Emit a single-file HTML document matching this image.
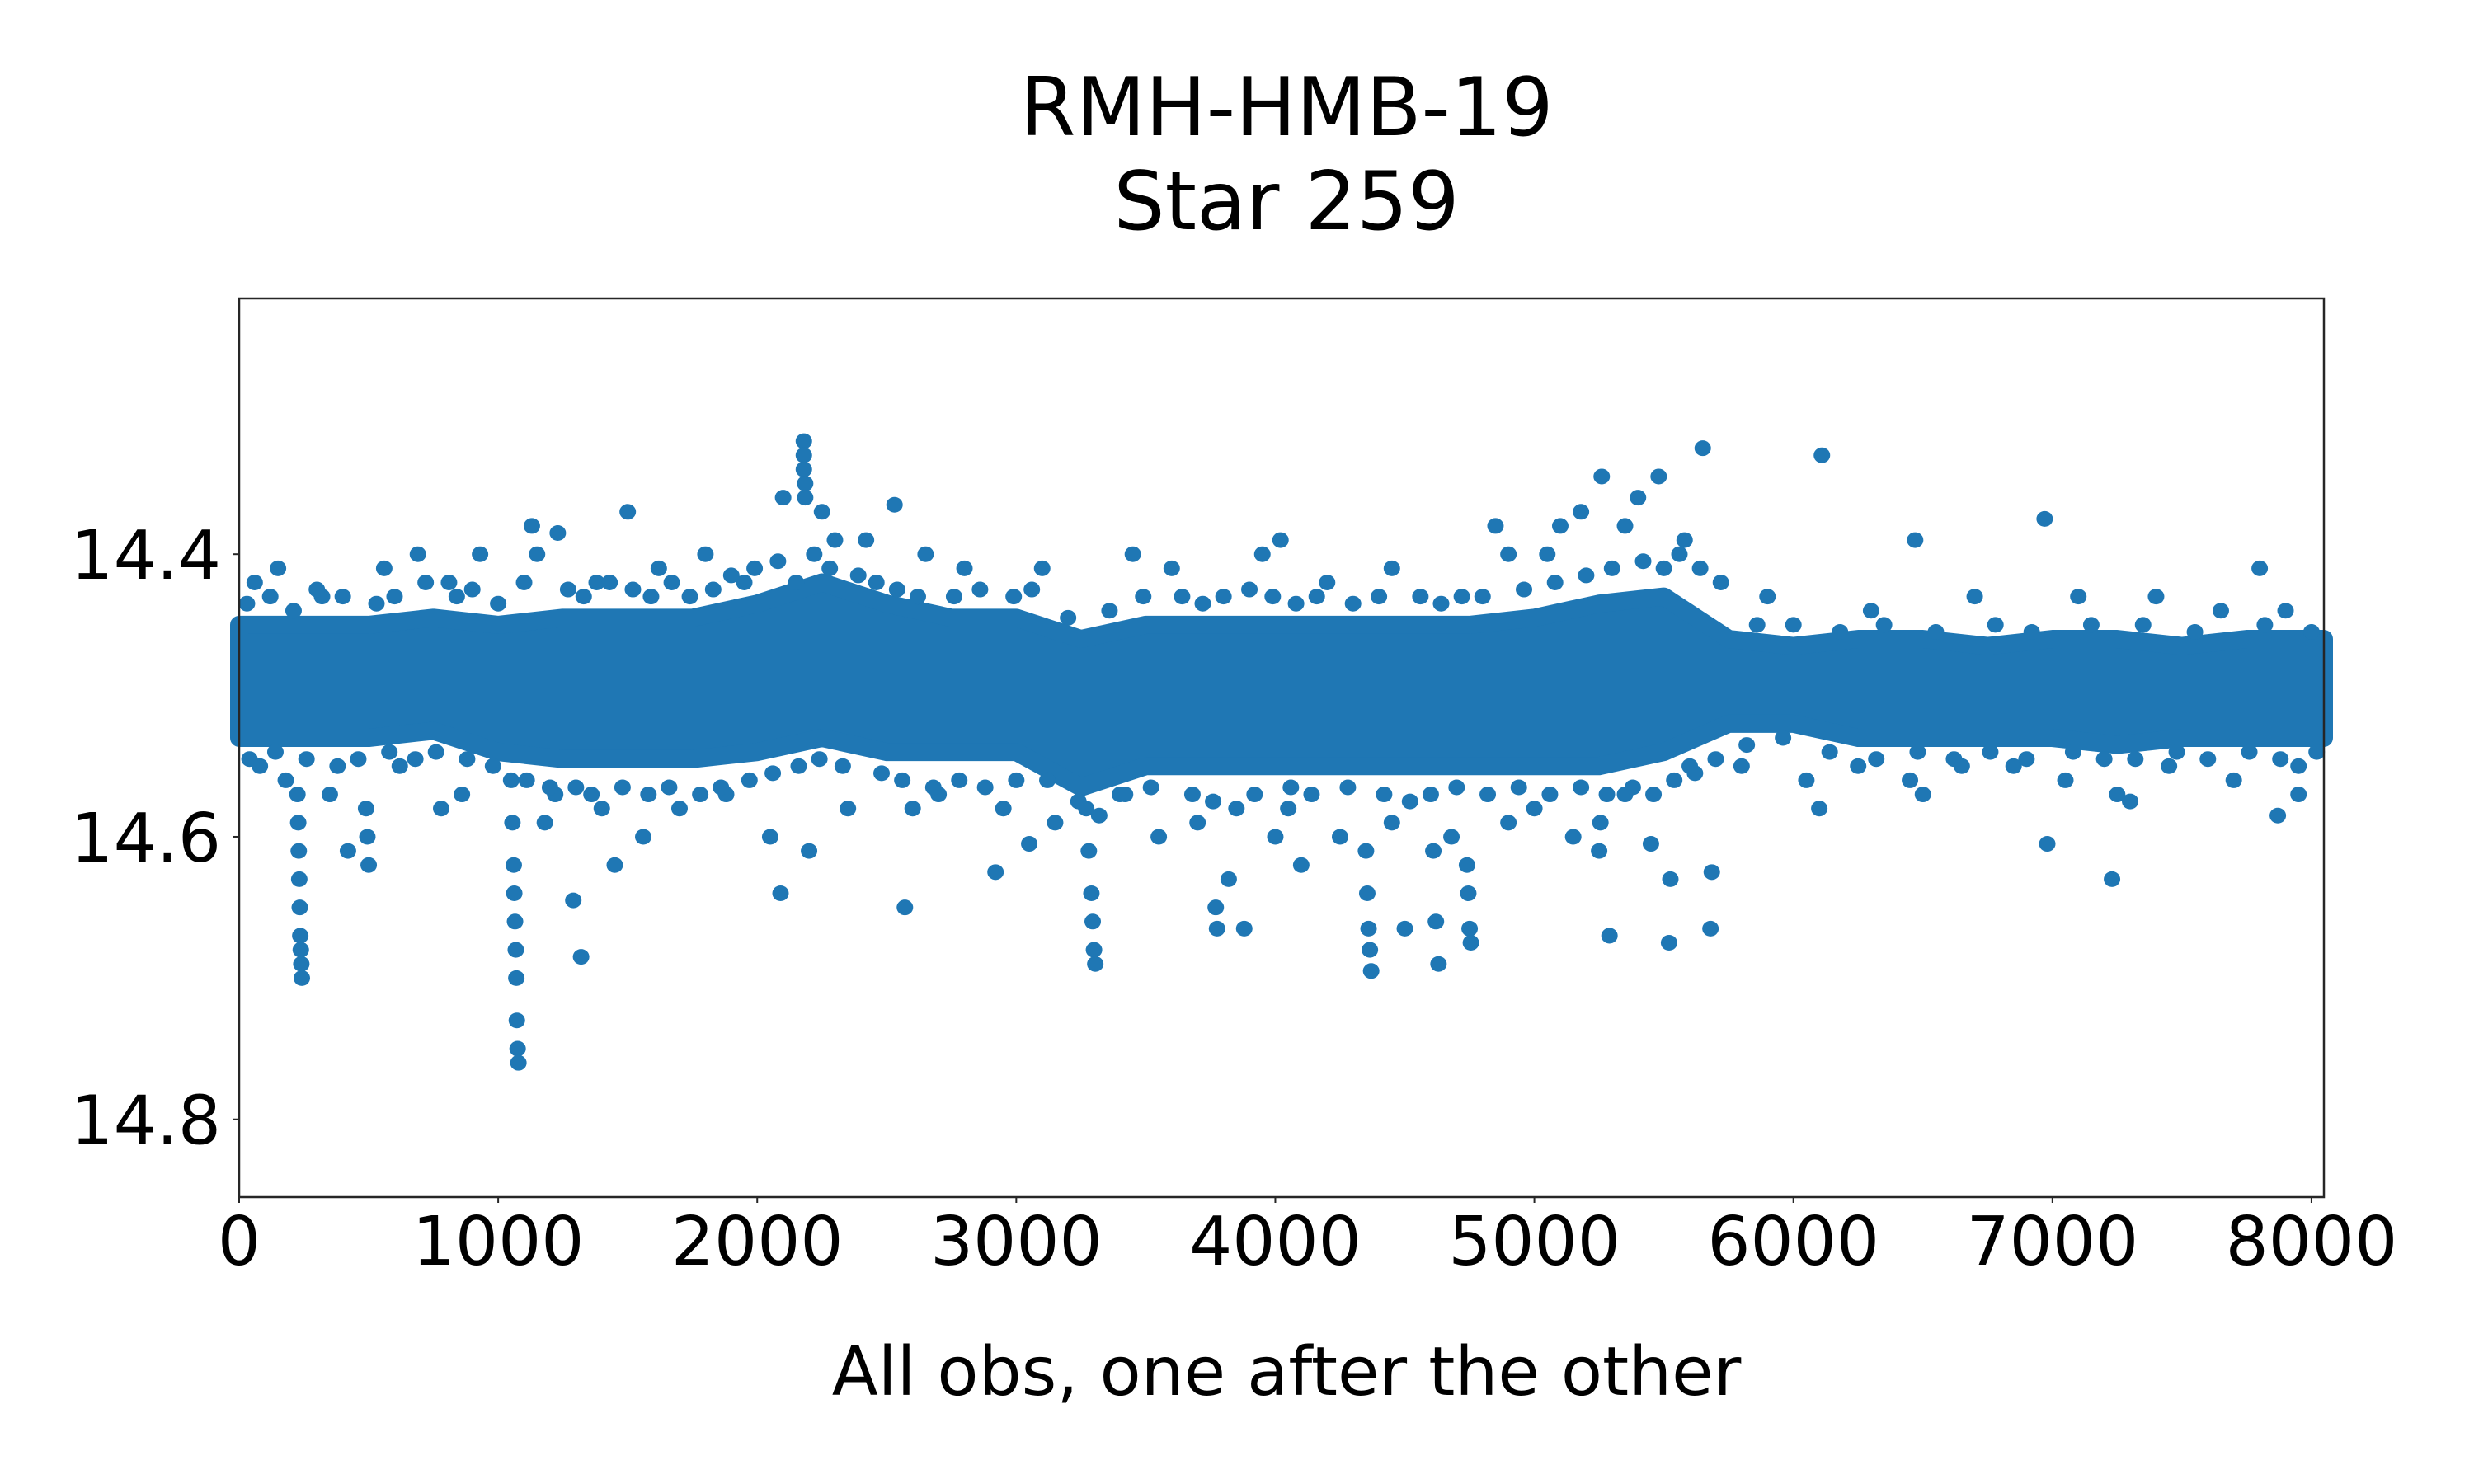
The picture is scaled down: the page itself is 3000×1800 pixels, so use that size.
<!DOCTYPE html>
<html><head><meta charset="utf-8"><style>
html,body{margin:0;padding:0;background:#fff;}
svg{display:block;font-family:"DejaVu Sans","Liberation Sans",sans-serif;}
</style></head><body>
<svg id="chart" width="3000" height="1800" viewBox="0 0 3000 1800" xmlns="http://www.w3.org/2000/svg">
<rect width="3000" height="1800" fill="#fff"/>
<text x="1560" y="164" font-size="98" text-anchor="middle">RMH-HMB-19</text>
<text x="1560" y="278" font-size="98" text-anchor="middle">Star 259</text>
<g id="plot"></g>
<g id="axes"></g>
<text x="1560" y="1692" font-size="82" text-anchor="middle">All obs, one after the other</text>
</svg>
<script>
const binX = [0,250,500,750,1000,1250,1500,1750,2000,2250,2500,2750,3000,3250,3500,3750,4000,4250,4500,4750,5000,5250,5500,5750,6000,6250,6500,6750,7000,7250,7500,7750,8048];
const coreTop = [14.45,14.45,14.45,14.445,14.45,14.445,14.445,14.445,14.435,14.42,14.435,14.445,14.445,14.46,14.45,14.45,14.45,14.45,14.45,14.45,14.445,14.435,14.43,14.46,14.465,14.46,14.46,14.465,14.46,14.46,14.465,14.46,14.46];
const coreBottom = [14.53,14.53,14.53,14.525,14.54,14.545,14.545,14.545,14.54,14.53,14.54,14.54,14.54,14.565,14.55,14.55,14.55,14.55,14.55,14.55,14.55,14.55,14.54,14.52,14.52,14.53,14.53,14.53,14.53,14.535,14.53,14.53,14.53];
const outX = [225,228,230,232,234,236,238,240,242,490,495,500,420,1050,1055,1060,1062,1065,1068,1070,1072,1075,1078,1320,1290,1450,1130,1230,1500,2180,2180,2180,2185,2185,2100,2250,2530,2090,2570,2200,3050,2920,3270,3280,3290,3295,3300,3305,3770,3775,3880,3820,4000,4100,4350,4355,4360,4365,4370,4500,4610,4620,4630,4740,4745,4750,4755,5290,5250,5255,5520,5525,5680,5685,5450,5260,5480,5650,5180,5400,5100,4850,4020,6110,6970,6470,7800,6100,6500,6980,7230,7870,7300,7950,
 60,150,320,560,690,810,930,1150,1380,1620,1800,1950,2300,2420,2650,2800,3100,3450,3600,3950,4200,4450,4900,5050,5350,5580,5900,6300,6700,7100,7400,7650,7900,
 80,180,350,620,780,860,1180,1220,1400,1560,1700,1880,2050,2350,2600,2700,2950,3150,3400,3550,3700,3850,4050,4250,4450,4680,4900,5000,5150,5350,5600,5800,6050,6250,6450,6650,6850,7050,7250,7450,7700,7950,
 30,120,210,300,400,530,600,720,840,900,1000,1100,1270,1330,1430,1520,1590,1670,1740,1830,1900,1990,2080,2150,2220,2280,2390,2460,2540,2620,2760,2860,2990,3060,3200,3360,3490,3640,3720,3800,3900,3990,4080,4160,4300,4400,4560,4640,4720,4800,4960,5080,5200,5300,5420,5500,5560,5640,5720,5860,6000,6180,6350,6550,6780,6920,7150,7350,7550,7820,8000,
 40,140,260,380,460,580,680,760,880,980,1110,1200,1300,1360,1480,1580,1660,1780,1860,1970,2060,2160,2240,2330,2480,2560,2680,2780,2880,3000,3120,3240,3320,3420,3520,3680,3760,3920,4060,4140,4280,4420,4520,4600,4700,4820,4940,5060,5180,5280,5380,5460,5540,5620,5700,5820,5960,6140,6320,6480,6620,6760,6900,7080,7200,7320,7480,7600,7760,7880,8020];
const outY = [14.57,14.59,14.61,14.63,14.65,14.67,14.68,14.69,14.70,14.58,14.60,14.62,14.61,14.56,14.59,14.62,14.64,14.66,14.68,14.70,14.73,14.75,14.76,14.685,14.645,14.62,14.38,14.385,14.37,14.32,14.33,14.34,14.35,14.36,14.36,14.37,14.365,14.64,14.65,14.61,14.605,14.625,14.58,14.61,14.64,14.66,14.68,14.69,14.65,14.665,14.665,14.63,14.60,14.62,14.61,14.64,14.665,14.68,14.695,14.665,14.61,14.66,14.69,14.62,14.64,14.665,14.675,14.67,14.61,14.59,14.675,14.63,14.665,14.625,14.605,14.345,14.345,14.325,14.37,14.36,14.38,14.38,14.39,14.33,14.375,14.39,14.41,14.58,14.57,14.605,14.63,14.585,14.575,14.57,
 14.42,14.41,14.43,14.41,14.40,14.42,14.40,14.40,14.42,14.41,14.40,14.42,14.39,14.39,14.40,14.41,14.41,14.40,14.41,14.40,14.42,14.41,14.40,14.40,14.38,14.39,14.43,14.44,14.43,14.43,14.43,14.44,14.44,
 14.55,14.56,14.57,14.55,14.58,14.57,14.59,14.57,14.58,14.60,14.58,14.57,14.60,14.58,14.58,14.57,14.58,14.59,14.57,14.60,14.59,14.58,14.58,14.60,14.59,14.60,14.59,14.58,14.60,14.57,14.55,14.55,14.56,14.55,14.56,14.55,14.55,14.56,14.57,14.55,14.56,14.55,
 14.435,14.43,14.44,14.425,14.43,14.435,14.43,14.42,14.43,14.425,14.435,14.42,14.425,14.43,14.42,14.425,14.43,14.42,14.43,14.425,14.415,14.41,14.405,14.42,14.40,14.41,14.415,14.42,14.425,14.43,14.43,14.425,14.43,14.425,14.445,14.44,14.43,14.43,14.435,14.43,14.425,14.43,14.435,14.43,14.435,14.43,14.43,14.435,14.43,14.43,14.425,14.42,14.415,14.41,14.405,14.41,14.40,14.41,14.42,14.45,14.45,14.455,14.45,14.455,14.45,14.455,14.45,14.45,14.455,14.45,14.455,
 14.545,14.54,14.545,14.55,14.545,14.54,14.545,14.54,14.545,14.55,14.56,14.565,14.565,14.57,14.565,14.57,14.565,14.57,14.565,14.56,14.555,14.55,14.545,14.55,14.555,14.56,14.565,14.56,14.565,14.56,14.56,14.575,14.585,14.57,14.565,14.57,14.575,14.57,14.565,14.57,14.565,14.57,14.575,14.57,14.565,14.57,14.565,14.57,14.565,14.57,14.565,14.57,14.56,14.555,14.545,14.535,14.53,14.54,14.545,14.54,14.545,14.54,14.545,14.54,14.545,14.545,14.54,14.545,14.54,14.545,14.54];
const xTicks = [0,1000,2000,3000,4000,5000,6000,7000,8000];
const yTicks = [14.4,14.6,14.8];

const L=290,T=362,W=2528,H=1090;
const X0=0,X1=8048,Y0=14.219,Y1=14.855;
const sx=v=>L+(v-X0)/(X1-X0)*W;
const sy=v=>T+(v-Y0)/(Y1-Y0)*H;
const NS='http://www.w3.org/2000/svg';
const plot=document.getElementById('plot'), axes=document.getElementById('axes');
const C='#1f77b4';

let pts=[];
for(let i=0;i<binX.length;i++) pts.push(sx(binX[i])+','+sy(coreTop[i]));
for(let i=binX.length-1;i>=0;i--) pts.push(sx(binX[i])+','+sy(coreBottom[i]));
const poly=document.createElementNS(NS,'polygon');
poly.setAttribute('points',pts.join(' '));
poly.setAttribute('fill',C);poly.setAttribute('stroke',C);
poly.setAttribute('stroke-width','22');poly.setAttribute('stroke-linejoin','round');


plot.appendChild(poly);

for(let i=0;i<outX.length;i++){
  const c=document.createElementNS(NS,'ellipse');
  c.setAttribute('cx',sx(outX[i]));c.setAttribute('cy',sy(outY[i]));
  c.setAttribute('rx',10);c.setAttribute('ry',9.5);c.setAttribute('fill',C);
  
  
  plot.appendChild(c);
}

const frame=document.createElementNS(NS,'rect');
frame.setAttribute('x',L);frame.setAttribute('y',T);frame.setAttribute('width',W);frame.setAttribute('height',H);
frame.setAttribute('fill','none');frame.setAttribute('stroke','#262626');frame.setAttribute('stroke-width','2.5');


axes.appendChild(frame);

xTicks.forEach(v=>{
  const ln=document.createElementNS(NS,'line');
  ln.setAttribute('x1',sx(v));ln.setAttribute('x2',sx(v));ln.setAttribute('y1',T+H);ln.setAttribute('y2',T+H+7);
  ln.setAttribute('stroke','#262626');ln.setAttribute('stroke-width','2');
  
  
  axes.appendChild(ln);
  const t=document.createElementNS(NS,'text');
  t.setAttribute('x',sx(v));t.setAttribute('y',T+H+82);t.setAttribute('font-size','82');t.setAttribute('text-anchor','middle');
  t.textContent=v;
  
  
  axes.appendChild(t);
});
yTicks.forEach(v=>{
  const ln=document.createElementNS(NS,'line');
  ln.setAttribute('x1',L-7);ln.setAttribute('x2',L);ln.setAttribute('y1',sy(v));ln.setAttribute('y2',sy(v));
  ln.setAttribute('stroke','#262626');ln.setAttribute('stroke-width','2');
  
  
  axes.appendChild(ln);
  const t=document.createElementNS(NS,'text');
  t.setAttribute('x',L-22);t.setAttribute('y',sy(v)+30);t.setAttribute('font-size','82');t.setAttribute('text-anchor','end');
  t.textContent=v.toFixed(1);
  
  
  axes.appendChild(t);
});
</script>
</body></html>
